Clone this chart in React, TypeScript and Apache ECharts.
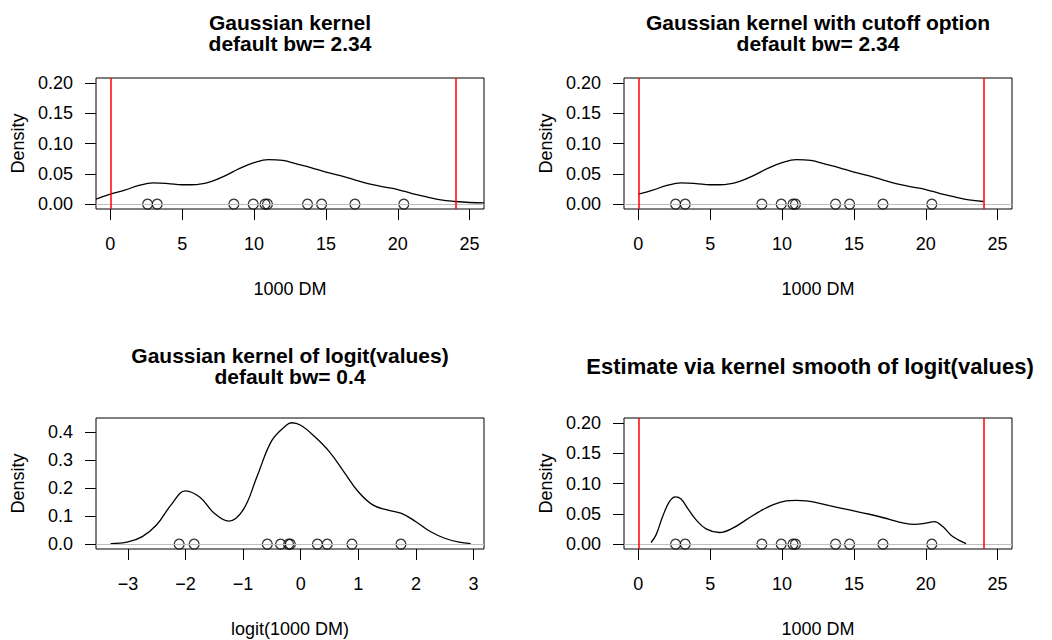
import React, { useEffect, useRef } from "react";
import * as echarts from "echarts";

const FONT = "'Liberation Sans', Arial, Helvetica, sans-serif";

// observed values (1000 DM) and their logit transforms, read from the rug points
const obsValues = [2.59, 3.26, 8.59, 9.94, 10.76, 10.93, 13.72, 14.7, 17.02, 20.42];
const obsLogit = [-2.11, -1.85, -0.58, -0.35, -0.21, -0.18, 0.29, 0.46, 0.89, 1.74];
const cutoffs = [0, 24];

// Gaussian kernel density, default bw = 2.34
const densX = [-1, 0, 1, 2, 3, 4, 5, 6, 7, 8, 9, 10, 11, 12, 13, 14, 15, 16, 17, 18, 19, 20, 21, 22, 23, 24, 25, 26];
const densY = [0.0082, 0.0164, 0.023, 0.031, 0.035, 0.034, 0.032, 0.0323, 0.037, 0.047, 0.059, 0.0685, 0.0735, 0.072, 0.066, 0.06, 0.053, 0.047, 0.04, 0.0335, 0.0285, 0.024, 0.0175, 0.012, 0.007, 0.0044, 0.0027, 0.002];

// Gaussian kernel density of logit(values), bw = 0.4
const logitX = [-3.3, -3, -2.75, -2.5, -2.25, -2, -1.75, -1.5, -1.25, -1, -0.75, -0.5, -0.25, -0.16, 0, 0.25, 0.5, 0.75, 1, 1.25, 1.5, 1.75, 2, 2.25, 2.5, 2.75, 2.95];
const logitY = [0.002, 0.008, 0.027, 0.069, 0.14, 0.19, 0.167, 0.11, 0.082, 0.122, 0.246, 0.37, 0.424, 0.433, 0.424, 0.382, 0.329, 0.258, 0.187, 0.14, 0.122, 0.11, 0.08, 0.045, 0.021, 0.007, 0.002];

// back-transformed kernel smooth estimate
const smoothX = [0.88, 1.23, 1.69, 2.16, 2.57, 2.97, 3.43, 4.02, 4.71, 5.64, 6.56, 7.49, 8.42, 9.35, 10.28, 10.97, 11.67, 12.6, 13.29, 14.68, 16.08, 17.47, 18.4, 19.2, 20.0, 20.6, 21.18, 21.87, 22.8];
const smoothY = [0.0027, 0.0153, 0.0455, 0.07, 0.078, 0.0745, 0.059, 0.04, 0.0252, 0.0192, 0.0263, 0.04, 0.0537, 0.0646, 0.0712, 0.0723, 0.0712, 0.0674, 0.0635, 0.0564, 0.0493, 0.041, 0.035, 0.0325, 0.0345, 0.0372, 0.029, 0.0126, 0.001];

const xTicksDM = [0, 5, 10, 15, 20, 25];
const xLabelsDM = ["0", "5", "10", "15", "20", "25"];
const xTicksLogit = [-3, -2, -1, 0, 1, 2, 3];
const xLabelsLogit = ["\u22123", "\u22122", "\u22121", "0", "1", "2", "3"];
const yTicksDens = [0, 0.05, 0.1, 0.15, 0.2];
const yLabelsDens = ["0.00", "0.05", "0.10", "0.15", "0.20"];
const yTicksLogit = [0, 0.1, 0.2, 0.3, 0.4];
const yLabelsLogit = ["0.0", "0.1", "0.2", "0.3", "0.4"];

const titles = [
  { text: "Gaussian kernel\ndefault bw= 2.34", cx: 290, cy: 33, size: 21 },
  { text: "Gaussian kernel with cutoff option\ndefault bw= 2.34", cx: 818, cy: 33, size: 21 },
  { text: "Gaussian kernel of logit(values)\ndefault bw= 0.4", cx: 290, cy: 366, size: 21 },
  { text: "Estimate via kernel smooth of logit(values)", cx: 810, cy: 366, size: 22 },
];

const grids = [
  { left: 96, top: 78, width: 388, height: 131 },
  { left: 624, top: 78, width: 388, height: 131 },
  { left: 96, top: 418, width: 388, height: 131 },
  { left: 624, top: 418, width: 388, height: 131 },
];

function fmt(ticks: number[], labels: string[]) {
  return (v: number) => {
    const i = ticks.findIndex((t) => Math.abs(t - v) < 1e-9);
    return i >= 0 ? labels[i] : "";
  };
}

function xAxis(gi: number, min: number, max: number, ticks: number[], labels: string[], name: string) {
  return {
    type: "value",
    gridIndex: gi,
    position: "bottom",
    min,
    max,
    name,
    nameLocation: "middle",
    nameGap: 71,
    nameTextStyle: { fontSize: 18, color: "#000", fontFamily: FONT },
    axisLine: { show: false, onZero: false },
    axisTick: { show: true, inside: false, length: 11, lineStyle: { color: "#000", width: 1 }, customValues: ticks },
    axisLabel: { show: true, customValues: ticks, formatter: fmt(ticks, labels), fontSize: 18, color: "#000", margin: 26, fontFamily: FONT },
    splitLine: { show: false },
  };
}

function yAxis(gi: number, min: number, max: number, ticks: number[], labels: string[]) {
  return {
    type: "value",
    gridIndex: gi,
    position: "left",
    min,
    max,
    name: "Density",
    nameLocation: "middle",
    nameGap: 69,
    nameTextStyle: { fontSize: 18, color: "#000", fontFamily: FONT },
    axisLine: { show: false, onZero: false },
    axisTick: { show: true, inside: false, length: 11, lineStyle: { color: "#000", width: 1 }, customValues: ticks },
    axisLabel: { show: true, customValues: ticks, formatter: fmt(ticks, labels), fontSize: 18, color: "#000", margin: 23, fontFamily: FONT },
    splitLine: { show: false },
  };
}

function curve(gi: number, pts: number[][], withCutoffs: boolean) {
  const ml: any[] = [{ yAxis: 0, lineStyle: { color: "#bebebe", width: 1, type: "solid" } }];
  if (withCutoffs) {
    cutoffs.forEach((c) => ml.push({ xAxis: c, lineStyle: { color: "#ff0000", width: 1.5, type: "solid" } }));
  }
  return {
    type: "line",
    xAxisIndex: gi,
    yAxisIndex: gi,
    data: pts,
    smooth: 0.4,
    showSymbol: false,
    silent: true,
    lineStyle: { color: "#000", width: 1.3 },
    z: 3,
    markLine: { silent: true, symbol: ["none", "none"], label: { show: false }, data: ml },
  };
}

function rug(gi: number, vals: number[]) {
  return {
    type: "scatter",
    xAxisIndex: gi,
    yAxisIndex: gi,
    data: vals.map((v) => [v, 0]),
    symbol: "circle",
    symbolSize: 10,
    silent: true,
    itemStyle: { color: "rgba(0,0,0,0)", borderColor: "#000", borderWidth: 1.3 },
    z: 4,
  };
}

export default function App() {
  const ref = useRef<HTMLDivElement>(null);
  useEffect(() => {
    document.body.style.margin = "0";
    const chart = echarts.init(ref.current!, null, { renderer: "svg", width: 1052, height: 640 });
    const full = densX.map((x, i) => [x, densY[i]]);
    const cut = full.filter((p) => p[0] >= cutoffs[0] && p[0] <= cutoffs[1]);
    const graphic: any[] = titles.map((t) => ({
      type: "text",
      x: t.cx,
      y: t.cy,
      silent: true,
      style: {
        text: t.text,
        fontSize: t.size,
        fontWeight: "bold",
        fontFamily: FONT,
        lineHeight: 21,
        fill: "#000",
        align: "center",
        verticalAlign: "middle",
        textAlign: "center",
        textVerticalAlign: "middle",
      },
    }));
    const option = {
      animation: false,
      backgroundColor: "#fff",
      grid: grids.map((g) => ({ ...g, show: true, borderColor: "#000", borderWidth: 1, containLabel: false })),
      xAxis: [
        xAxis(0, -1, 26, xTicksDM, xLabelsDM, "1000 DM"),
        xAxis(1, -1, 26, xTicksDM, xLabelsDM, "1000 DM"),
        xAxis(2, -3.554, 3.182, xTicksLogit, xLabelsLogit, "logit(1000 DM)"),
        xAxis(3, -1, 26, xTicksDM, xLabelsDM, "1000 DM"),
      ],
      yAxis: [
        yAxis(0, -0.008, 0.208, yTicksDens, yLabelsDens),
        yAxis(1, -0.008, 0.208, yTicksDens, yLabelsDens),
        yAxis(2, -0.0173, 0.45, yTicksLogit, yLabelsLogit),
        yAxis(3, -0.008, 0.208, yTicksDens, yLabelsDens),
      ],
      series: [
        curve(0, full, true),
        rug(0, obsValues),
        curve(1, cut, true),
        rug(1, obsValues),
        curve(2, logitX.map((x, i) => [x, logitY[i]]), false),
        rug(2, obsLogit),
        curve(3, smoothX.map((x, i) => [x, smoothY[i]]), true),
        rug(3, obsValues),
      ],
      graphic,
    };
    chart.setOption(option as any);
    return () => chart.dispose();
  }, []);
  return <div ref={ref} style={{ position: "absolute", left: 0, top: 0, width: 1052, height: 640, background: "#fff" }} />;
}
